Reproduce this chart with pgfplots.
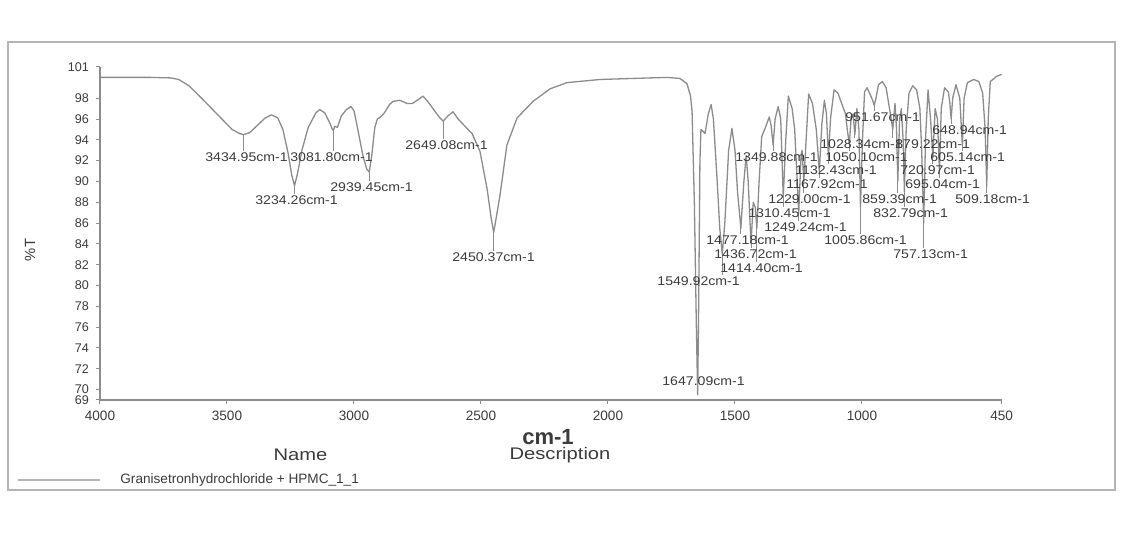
\documentclass[border=0pt]{standalone}
\usepackage{fontspec}
\setmainfont{Liberation Sans}
\usepackage{pgfplots}
\pgfplotsset{compat=1.18}
\definecolor{specgray}{HTML}{8C8C8C}
\definecolor{txt}{HTML}{3C3C3C}
\definecolor{frm}{HTML}{B4B4B4}
\tikzset{
  lbl/.style={anchor=west, inner sep=0pt, text=txt, font=\fontsize{6.3}{7}\selectfont},
  ldr/.style={specgray, line width=0.4pt},
}
\newcommand{\W}[1]{\scalebox{1.12}[1]{#1}}
\begin{document}
\begin{tikzpicture}
\useasboundingbox[fill=white] (-50pt,-66.5pt) rectangle (523.5pt,200pt);
\draw[frm, line width=0.8pt] (-46pt,-45pt) rectangle (507.5pt,179pt);
\begin{axis}[
  at={(0pt,0pt)}, anchor=south west,
  scale only axis, width=450.85pt, height=166.5pt,
  x dir=reverse, xmin=450, xmax=4000, ymin=69, ymax=101,
  axis x line*=bottom, axis y line*=left,
  axis line style={specgray, line width=0.6pt},
  xtick={4000,3500,3000,2500,2000,1500,1000,450},
  ytick={69,70,72,74,76,78,80,82,84,86,88,90,92,94,96,98,101},
  tick align=outside, major tick length=2pt,
  tick style={specgray, line width=0.5pt},
  xticklabel style={font=\fontsize{6.8}{8}\selectfont, text=txt},
  yticklabel style={font=\fontsize{6.3}{7}\selectfont, text=txt},
  /pgf/number format/1000 sep={},
  /pgf/number format/assume math mode=true,
  clip=false,
]
\addplot[specgray, line width=0.65pt, line join=round] coordinates {
(4000,100.0) (3800,100.0) (3720,99.95) (3690,99.8) (3650,99.2) (3600,98.0)
(3560,97.0) (3520,96.0) (3480,95.0) (3450,94.6) (3435,94.5) (3410,94.7)
(3380,95.4) (3350,96.1) (3325,96.4) (3300,96.1) (3280,95.0) (3260,92.8)
(3245,90.6) (3234,89.6) (3222,90.8) (3205,93.0) (3180,95.2) (3150,96.6)
(3135,96.9) (3115,96.6) (3095,95.6) (3085,95.0) (3081,94.9) (3076,95.3)
(3065,95.2) (3050,96.3) (3030,96.9) (3012,97.2) (3000,96.8) (2985,95.0)
(2965,92.5) (2950,91.2) (2940,90.9) (2930,92.5) (2918,95.2) (2908,96.0)
(2895,96.2) (2880,96.6) (2860,97.4) (2846,97.7) (2820,97.8) (2791,97.5)
(2770,97.5) (2745,97.9) (2728,98.2) (2710,97.7) (2689,97.0) (2665,96.2)
(2649,95.8) (2630,96.3) (2610,96.7) (2590,96.0) (2555,95.1) (2535,94.6)
(2504,92.9) (2476,89.3) (2460,86.5) (2450,85.1) (2438,86.8) (2425,88.7)
(2398,93.5) (2358,96.1) (2295,97.7) (2228,98.9) (2161,99.5) (2031,99.8)
(1902,99.9) (1768,100.0) (1717,99.9) (1689,99.4) (1675,98.2) (1669,96.7)
(1660,88) (1652,76) (1647,69.5) (1643,78) (1638,92) (1634,95.0)
(1625,94.8) (1618,94.6) (1605,96.5) (1594,97.4) (1585,96.0) (1570,90)
(1560,85.5) (1550,83.0) (1540,86) (1525,93) (1512,95.1) (1500,93)
(1490,89) (1477,85.5) (1465,90) (1456,92.5) (1448,90) (1437,84.0)
(1428,88) (1420,87.5) (1414,85.5) (1405,90) (1395,94.3) (1380,95.2)
(1365,96.2) (1358,95.4) (1350,93.5) (1342,96.0) (1330,97.2) (1320,96.0)
(1310,88.5) (1300,94) (1290,98.2) (1275,97.0) (1265,95) (1249,87.0)
(1240,92.5) (1236,93) (1229,90.0) (1220,94) (1210,98.4) (1195,97.5)
(1180,95) (1168,91.0) (1158,95.5) (1148,97.8) (1140,96.5) (1132,92.3)
(1124,96) (1110,98.8) (1095,98.5) (1080,97.5) (1065,96.5) (1058,95)
(1050,93.6) (1043,96.0) (1035,96.5) (1028,94.5) (1020,97) (1012,95)
(1006,87.5) (998,94) (990,98.6) (980,99.0) (965,98.2) (958,97.8)
(952,97.3) (945,98.0) (935,99.3) (920,99.6) (905,99.0) (895,97.5)
(885,96) (879,95.0) (870,97.5) (864,95) (859,90.0) (852,96)
(845,97) (838,94) (833,89.0) (826,95) (815,98.5) (800,99.2)
(785,98.8) (772,97) (765,93) (757,86.0) (750,94) (740,98.8)
(730,96) (721,92.3) (712,97) (703,96) (695,91.0) (688,97)
(675,99.0) (660,98.6) (654,97.5) (649,96.0) (643,98) (630,99.3)
(615,98) (605,93.5) (598,98) (585,99.5) (560,99.8) (540,99.6)
(525,98.5) (515,95) (509,89.5) (503,96) (495,99.6) (470,100.1) (450,100.3)
};
% leader lines: from peak down to label top
\draw[ldr] (axis cs:3434.95,94.5) -- (axis cs:3434.95,92.95);
\draw[ldr] (axis cs:3081.80,94.9) -- (axis cs:3081.80,92.95);
\draw[ldr] (axis cs:3234.26,89.6) -- (axis cs:3234.26,88.82);
\draw[ldr] (axis cs:2939.45,90.9) -- (axis cs:2939.45,90.07);
\draw[ldr] (axis cs:2649.08,95.8) -- (axis cs:2649.08,94.10);
\draw[ldr] (axis cs:2450.37,85.1) -- (axis cs:2450.37,83.34);
\draw[ldr] (axis cs:1549.92,83.0) -- (axis cs:1549.92,81.03);
\draw[ldr] (axis cs:1477.18,85.5) -- (axis cs:1477.18,84.97);
\draw[ldr] (axis cs:1436.72,84.0) -- (axis cs:1436.72,83.63);
\draw[ldr] (axis cs:1414.40,85.5) -- (axis cs:1414.40,82.28);
\draw[ldr] (axis cs:1349.88,93.5) -- (axis cs:1349.88,92.95);
\draw[ldr] (axis cs:1310.45,88.5) -- (axis cs:1310.45,87.57);
\draw[ldr] (axis cs:1249.24,87.0) -- (axis cs:1249.24,86.22);
\draw[ldr] (axis cs:1229.00,90.0) -- (axis cs:1229.00,88.91);
\draw[ldr] (axis cs:1167.92,91.0) -- (axis cs:1167.92,90.36);
\draw[ldr] (axis cs:1132.43,92.3) -- (axis cs:1132.43,91.70);
\draw[ldr] (axis cs:1050.10,93.6) -- (axis cs:1050.10,92.95);
\draw[ldr] (axis cs:1028.34,94.5) -- (axis cs:1028.34,94.20);
\draw[ldr] (axis cs:1005.86,87.5) -- (axis cs:1005.86,84.97);
\draw[ldr] (axis cs:951.67,97.3) -- (axis cs:951.67,96.80);
\draw[ldr] (axis cs:879.22,95.0) -- (axis cs:879.22,94.20);
\draw[ldr] (axis cs:859.39,90.0) -- (axis cs:859.39,88.91);
\draw[ldr] (axis cs:832.79,89.0) -- (axis cs:832.79,87.57);
\draw[ldr] (axis cs:757.13,86.0) -- (axis cs:757.13,83.63);
\draw[ldr] (axis cs:720.97,92.3) -- (axis cs:720.97,91.70);
\draw[ldr] (axis cs:695.04,91.0) -- (axis cs:695.04,90.36);
\draw[ldr] (axis cs:648.94,96.0) -- (axis cs:648.94,95.55);
\draw[ldr] (axis cs:605.14,93.5) -- (axis cs:605.14,92.95);
\draw[ldr] (axis cs:509.18,89.5) -- (axis cs:509.18,88.91);
% labels
\node[lbl] at (axis cs:3586.6,92.35) {\W{3434.95cm-1}};
\node[lbl] at (axis cs:3252.0,92.35) {\W{3081.80cm-1}};
\node[lbl] at (axis cs:3389.8,88.22) {\W{3234.26cm-1}};
\node[lbl] at (axis cs:3094.5,89.47) {\W{2939.45cm-1}};
\node[lbl] at (axis cs:2799.2,93.50) {\W{2649.08cm-1}};
\node[lbl] at (axis cs:2614.2,82.74) {\W{2450.37cm-1}};
\node[lbl] at (axis cs:1787.4,70.83) {\W{1647.09cm-1}};
\node[lbl] at (axis cs:1807.0,80.43) {\W{1549.92cm-1}};
\node[lbl] at (axis cs:1614.2,84.37) {\W{1477.18cm-1}};
\node[lbl] at (axis cs:1582.7,83.03) {\W{1436.72cm-1}};
\node[lbl] at (axis cs:1559.1,81.68) {\W{1414.40cm-1}};
\node[lbl] at (axis cs:1500.0,92.35) {\W{1349.88cm-1}};
\node[lbl] at (axis cs:1448.8,86.97) {\W{1310.45cm-1}};
\node[lbl] at (axis cs:1385.8,85.62) {\W{1249.24cm-1}};
\node[lbl] at (axis cs:1370.1,88.31) {\W{1229.00cm-1}};
\node[lbl] at (axis cs:1299.2,89.76) {\W{1167.92cm-1}};
\node[lbl] at (axis cs:1263.8,91.10) {\W{1132.43cm-1}};
\node[lbl] at (axis cs:1145.7,92.35) {\W{1050.10cm-1}};
\node[lbl] at (axis cs:1165.4,93.60) {\W{1028.34cm-1}};
\node[lbl] at (axis cs:1149.6,84.37) {\W{1005.86cm-1}};
\node[lbl] at (axis cs:1066.9,96.20) {\W{951.67cm-1}};
\node[lbl] at (axis cs:870.1,93.60) {\W{879.22cm-1}};
\node[lbl] at (axis cs:1000.0,88.31) {\W{859.39cm-1}};
\node[lbl] at (axis cs:956.7,86.97) {\W{832.79cm-1}};
\node[lbl] at (axis cs:878.0,83.03) {\W{757.13cm-1}};
\node[lbl] at (axis cs:850.4,91.10) {\W{720.97cm-1}};
\node[lbl] at (axis cs:830.7,89.76) {\W{695.04cm-1}};
\node[lbl] at (axis cs:724.4,94.95) {\W{648.94cm-1}};
\node[lbl] at (axis cs:732.3,92.35) {\W{605.14cm-1}};
\node[lbl] at (axis cs:633.9,88.31) {\W{509.18cm-1}};
\end{axis}
\node[text=txt, font=\fontsize{11}{12}\selectfont\bfseries] at (224pt,-18.5pt) {cm-1};
\node[text=txt, font=\fontsize{8.4}{9}\selectfont] at (100.25pt,-27.5pt) {\scalebox{1.2}[1]{Name}};
\node[text=txt, font=\fontsize{8.4}{9}\selectfont] at (230pt,-27.5pt) {\scalebox{1.2}[1]{Description}};
\draw[frm, line width=0.6pt] (-41pt,-40pt) -- (0pt,-40pt);
\node[anchor=west, inner sep=0pt, text=txt, font=\fontsize{6.8}{8}\selectfont] at (10pt,-40pt) {Granisetronhydrochloride + HPMC\_1\_1};
\node[rotate=90, text=txt, font=\fontsize{7.4}{9}\selectfont] at (-35pt,75pt) {\%T};
\end{tikzpicture}
\end{document}
